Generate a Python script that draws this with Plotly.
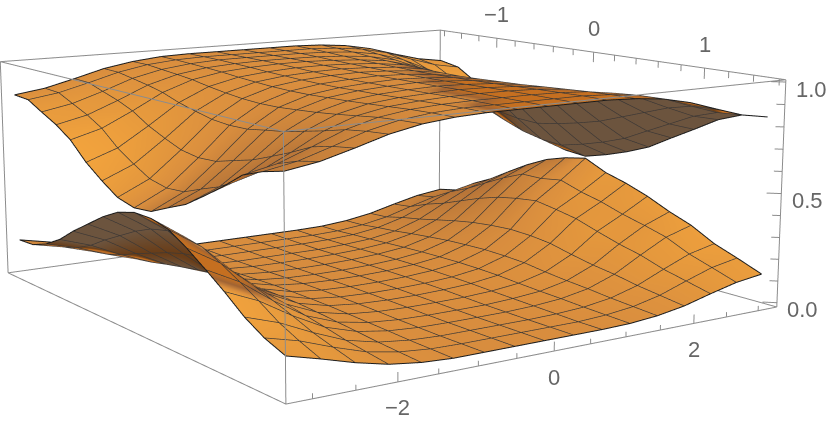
import numpy as np
import plotly.graph_objects as go

x_vals = [-3.2,-2.8,-2.4,-2.0,-1.6,-1.2,-0.8,-0.4,0.0,0.4,0.8,1.2,1.6,2.0,2.4,2.8,3.2]
y_vals = [-1.57,-1.37,-1.18,-0.98,-0.79,-0.59,-0.39,-0.2,0.0,0.2,0.39,0.59,0.79,0.98,1.18,1.37,1.57]
x_ticks = [-3,-2.5,-2,-1.5,-1,-0.5,0,0.5,1,1.5,2,2.5,3]
y_ticks = [-1.6,-1.4,-1.2,-1,-0.8,-0.6,-0.4,-0.2,0,0.2,0.4,0.6,0.8,1,1.2,1.4,1.6]
z_ticks = [0,0.1,0.2,0.3,0.4,0.5,0.6,0.7,0.8,0.9,1.0]
x_labels = {-2:"\u22122",0:"0",2:"2"}
y_labels = {-1:"\u22121",0:"0",1:"1"}
z_labels = {0:"0.0",0.5:"0.5",1.0:"1.0"}

lower_z = [
[.15,.12,.078,.042,.021,.011,.01,.01,.01,.01,.01,.013,.025,.047,.081,.112,.13],
[.155,.124,.081,.043,.022,.011,.01,.01,.01,.01,.01,.015,.029,.054,.093,.129,.15],
[.185,.148,.096,.052,.026,.013,.01,.01,.01,.01,.013,.021,.04,.076,.13,.181,.21],
[.235,.188,.122,.066,.033,.016,.01,.01,.01,.01,.016,.026,.049,.094,.161,.224,.26],
[.30,.24,.156,.084,.042,.021,.012,.01,.01,.013,.019,.032,.061,.115,.198,.275,.32],
[.36,.288,.187,.101,.05,.025,.014,.011,.011,.015,.023,.038,.072,.137,.236,.327,.38],
[.42,.336,.218,.118,.059,.029,.017,.013,.013,.017,.026,.043,.082,.155,.267,.37,.43],
[.465,.372,.242,.13,.065,.033,.019,.014,.014,.018,.028,.046,.087,.166,.285,.37,.46],
[.49,.392,.255,.137,.069,.034,.02,.015,.015,.019,.029,.048,.091,.173,.298,.385,.48],
[.49,.392,.255,.137,.069,.034,.02,.015,.015,.019,.028,.047,.089,.169,.28,.35,.43],
[.47,.376,.244,.132,.066,.033,.019,.014,.014,.018,.026,.044,.084,.158,.26,.325,.40],
[.42,.336,.218,.118,.059,.029,.017,.013,.013,.015,.022,.037,.07,.133,.225,.29,.36],
[.36,.288,.187,.101,.05,.025,.014,.011,.011,.012,.019,.031,.059,.112,.192,.262,.31],
[.30,.24,.156,.084,.042,.021,.012,.01,.01,.011,.016,.027,.051,.097,.167,.232,.27],
[.23,.184,.12,.064,.032,.016,.01,.01,.01,.01,.013,.021,.04,.076,.13,.181,.21],
[.18,.144,.094,.05,.025,.013,.01,.01,.01,.01,.01,.017,.032,.061,.105,.146,.17],
[.145,.108,.068,.036,.018,.01,.01,.01,.01,.01,.01,.013,.024,.045,.078,.108,.125],
]
upper_z = [
[.855,.875,.91,.948,.972,.986,.99,.99,.99,.99,.99,.985,.972,.946,.907,.871,.85],
[.85,.871,.907,.946,.972,.985,.99,.99,.99,.99,.99,.983,.968,.939,.895,.854,.83],
[.81,.837,.882,.932,.964,.981,.989,.99,.99,.99,.986,.977,.956,.917,.857,.802,.77],
[.77,.802,.857,.917,.956,.977,.986,.99,.99,.988,.981,.969,.941,.888,.808,.733,.69],
[.72,.759,.826,.899,.947,.972,.983,.989,.99,.985,.977,.962,.928,.863,.764,.673,.62],
[.64,.69,.777,.87,.932,.964,.978,.986,.987,.983,.974,.957,.918,.845,.733,.63,.57],
[.58,.639,.74,.849,.92,.958,.975,.983,.986,.981,.972,.953,.91,.829,.706,.592,.525],
[.53,.596,.709,.831,.911,.953,.972,.981,.985,.98,.97,.95,.905,.82,.69,.57,.50],
[.51,.579,.696,.824,.907,.951,.971,.98,.985,.98,.969,.949,.903,.816,.684,.561,.49],
[.52,.587,.702,.827,.909,.952,.971,.981,.986,.981,.971,.952,.909,.827,.702,.587,.52],
[.56,.622,.727,.842,.916,.956,.974,.982,.987,.982,.973,.956,.915,.84,.724,.617,.555],
[.60,.656,.752,.856,.924,.96,.976,.984,.988,.984,.976,.96,.924,.856,.752,.656,.60],
[.66,.708,.789,.878,.935,.966,.98,.986,.99,.987,.98,.967,.936,.879,.792,.712,.665],
[.72,.759,.826,.899,.947,.972,.983,.989,.99,.989,.984,.973,.948,.901,.83,.764,.725],
[.79,.819,.87,.924,.96,.979,.987,.99,.99,.99,.987,.979,.96,.924,.87,.819,.79],
[.825,.85,.892,.937,.967,.983,.99,.99,.99,.99,.99,.983,.968,.939,.895,.854,.83],
[.85,.871,.907,.946,.972,.985,.99,.99,.99,.99,.99,.984,.97,.942,.901,.862,.84],
]

XR = 3.3; YR = 1.65; ZR = (-0.02, 1.01)
EYE = np.array((-1.8534, -2.7167, 0.6088))
ASP = (1.0023, 0.9973, 0.4)
FOCAL = 1868.0; PX = 378.0; PY = 181.0
X = np.array(x_vals); Y = -np.array(y_vals)   # the y axis runs away from the viewer towards its low values
ZMID = (ZR[0]+ZR[1])/2
SX = ASP[0]/(2*XR); SY = ASP[1]/(2*YR); SZ = ASP[2]/(ZR[1]-ZR[0])

def project(P):
    f = -EYE/np.linalg.norm(EYE)
    r = np.cross(f, [0,0,1.0]); r /= np.linalg.norm(r)
    u = np.cross(r, f)
    d = P - EYE
    w = d @ f
    return PX + FOCAL*(d @ r)/w, PY - FOCAL*(d @ u)/w, w

def scene_points(z):
    xx, yy = np.meshgrid(X*SX, Y*SY)
    return np.stack([xx, yy, (np.array(z)-ZMID)*SZ], -1)

def shade(z):
    z = np.array(z)
    P = scene_points(z)
    dzx = np.gradient(P[...,2], X*SX, axis=1); dzy = np.gradient(P[...,2], Y*SY, axis=0)
    n = np.stack([-dzx, -dzy, np.ones_like(dzx)], -1)
    n /= np.linalg.norm(n, axis=-1, keepdims=True)
    v = EYE - P
    v /= np.linalg.norm(v, axis=-1, keepdims=True)
    under = (n*v).sum(-1) < -0.03
    s = np.clip(0.45 - 1.0*n[...,1], 0, 1)
    s[under] = -1
    px, py, w = project(P)
    out = s.copy()
    R, C = z.shape
    for i in range(R):
        for j in range(C):
            done = False
            for a in range(R-1):
                if done: break
                for b in range(C-1):
                    if abs(a-i) <= 1 and abs(b-j) <= 1: continue
                    cu = under[a:a+2, b:b+2].sum() >= 2
                    if cu == under[i,j]: continue
                    if w[a:a+2, b:b+2].mean() <= w[i,j]: continue
                    qx = [px[a,b],px[a,b+1],px[a+1,b+1],px[a+1,b]]
                    qy = [py[a,b],py[a,b+1],py[a+1,b+1],py[a+1,b]]
                    cr = [(qx[(k+1)%4]-qx[k])*(py[i,j]-qy[k])-(qy[(k+1)%4]-qy[k])*(px[i,j]-qx[k]) for k in range(4)]
                    if all(c >= 0 for c in cr) or all(c <= 0 for c in cr):
                        out[i,j] = -0.75 if under[i,j] else -0.5
                        done = True; break
    return out

def mesh_lines(z, rows, cols, width, color):
    P = scene_points(z)
    Q = P + (EYE - P)*0.004
    mx = Q[...,0]/SX; my = Q[...,1]/SY; mz = Q[...,2]/SZ + ZMID
    ox, oy, oz = [], [], []
    for i in rows:
        ox += list(mx[i,:])+[None]; oy += list(my[i,:])+[None]; oz += list(mz[i,:])+[None]
    for j in cols:
        ox += list(mx[:,j])+[None]; oy += list(my[:,j])+[None]; oz += list(mz[:,j])+[None]
    return go.Scatter3d(x=ox, y=oy, z=oz, mode="lines", line=dict(color=color, width=width),
                        hoverinfo="skip", showlegend=False)

CS = [[0,"rgb(108,84,62)"],[0.125,"rgb(105,60,22)"],[0.25,"rgb(198,112,32)"],[0.5,"rgb(160,100,52)"],
      [0.725,"rgb(216,141,62)"],[1,"rgb(252,172,60)"]]
traces = []
for z in (lower_z, upper_z):
    traces.append(go.Surface(x=X, y=Y, z=z, surfacecolor=shade(z), cmin=-1, cmax=1, colorscale=CS,
        showscale=False, hoverinfo="skip",
        lighting=dict(ambient=1, diffuse=0, specular=0, roughness=1, fresnel=0)))
    traces.append(mesh_lines(z, range(1,16), range(1,16), 1.4, "#3c3835"))
    traces.append(mesh_lines(z, [0,16], [0,16], 2, "#1c1c1c"))

GR = "#8c8c8c"
bx, by, bz = [], [], []
def seg(a, b, xs=bx, ys=by, zs=bz):
    xs += [a[0], b[0], None]; ys += [a[1], b[1], None]; zs += [a[2], b[2], None]
for sx_ in (-XR, XR):
    for sy_ in (-YR, YR):
        seg((sx_, sy_, ZR[0]), (sx_, sy_, ZR[1]))
for zv in ZR:
    for sy_ in (-YR, YR):
        seg((-XR, sy_, zv), (XR, sy_, zv))
    for sx_ in (-XR, XR):
        seg((sx_, -YR, zv), (sx_, YR, zv))
for t in x_ticks:
    seg((t, -YR, ZR[0]), (t, -YR, ZR[0] + (0.04 if t in x_labels else 0.022)))
for t in y_ticks:
    seg((XR, -t, ZR[1]), (XR, -t, ZR[1] - (0.05 if t in y_labels else 0.03)))
for t in z_ticks:
    k = 0.035 if t in z_labels else 0.02
    seg((XR, -YR, t), (XR - k*XR, -YR + k*YR, t))
traces.append(go.Scatter3d(x=bx, y=by, z=bz, mode="lines", line=dict(color=GR, width=2),
                           hoverinfo="skip", showlegend=False))

LF = dict(family="Liberation Sans", size=22, color="#666666")
ann = []
for t, s in x_labels.items():
    ann.append(dict(x=t, y=-YR, z=ZR[0], text=s, showarrow=False, font=LF, yshift=-26, xanchor="center", yanchor="middle"))
for t, s in y_labels.items():
    ann.append(dict(x=XR, y=-t, z=ZR[1], text=s, showarrow=False, font=LF, yshift=24, xanchor="center", yanchor="middle"))
for t, s in z_labels.items():
    ann.append(dict(x=XR, y=-YR, z=t, text=s, showarrow=False, font=LF, xshift=26, yshift=-7, xanchor="center", yanchor="middle"))

ax = dict(visible=False, showgrid=False, zeroline=False, showspikes=False, showbackground=False)
W, H = 1200, 1548
PAD = 0.002   # keeps the box lines on the upper bounds from being clipped
fig = go.Figure(traces)
fig.update_layout(width=W, height=H, margin=dict(l=0, r=0, t=0, b=0), paper_bgcolor="white", showlegend=False,
    scene=dict(domain=dict(x=[0,1], y=[0,1]), bgcolor="white", aspectmode="manual",
        aspectratio=dict(x=ASP[0], y=ASP[1], z=ASP[2]),
        camera=dict(eye=dict(x=EYE[0], y=EYE[1], z=EYE[2]), center=dict(x=0,y=0,z=0), up=dict(x=0,y=0,z=1),
                    projection=dict(type="perspective")),
        xaxis=dict(range=[-XR-PAD,XR+PAD], **ax), yaxis=dict(range=[-YR-PAD,YR+PAD], **ax),
        zaxis=dict(range=[ZR[0]-PAD,ZR[1]+PAD], **ax),
        annotations=ann))
post = ("var g=document.getElementById('{plot_id}');g.style.position='absolute';"
        "g.style.left='%dpx';g.style.top='%dpx';"
        "document.documentElement.style.overflow='hidden';document.body.style.overflow='hidden';" % (378-W//2, 181-H//2))
fig.write_html("out.html", config=dict(displayModeBar=False, responsive=False), post_script=post)
